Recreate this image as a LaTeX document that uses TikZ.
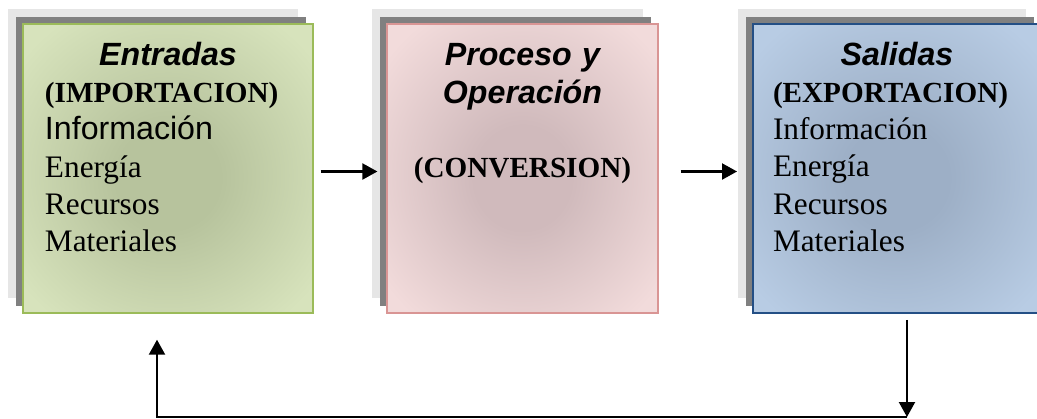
\documentclass[tikz,border=0pt]{standalone}
\usepackage{fontspec}
\setmainfont{Liberation Serif}
\setsansfont{Liberation Sans}
\usetikzlibrary{arrows.meta,positioning,shadows}

\definecolor{greenfill}{HTML}{D7E3BC}
\definecolor{greencore}{HTML}{B7C39D}
\definecolor{greenline}{HTML}{9BBB59}
\definecolor{pinkfill}{HTML}{F2DBDB}
\definecolor{pinkcore}{HTML}{D0BABC}
\definecolor{pinkline}{HTML}{D99594}
\definecolor{bluefill}{HTML}{B8CCE4}
\definecolor{bluecore}{HTML}{9DAFC6}
\definecolor{blueline}{HTML}{244F85}
\definecolor{lightshade}{HTML}{E6E6E6}
\definecolor{darkshade}{HTML}{808080}

\pgfdeclareradialshading{glowgreen}{\pgfpoint{0bp}{-2bp}}{color(0bp)=(greencore); color(9bp)=(greencore); color(32bp)=(greenfill); color(50bp)=(greenfill)}
\pgfdeclareradialshading{glowpink}{\pgfpoint{0bp}{-2bp}}{color(0bp)=(pinkcore); color(9bp)=(pinkcore); color(32bp)=(pinkfill); color(50bp)=(pinkfill)}
\pgfdeclareradialshading{glowblue}{\pgfpoint{0bp}{-2bp}}{color(0bp)=(bluecore); color(9bp)=(bluecore); color(32bp)=(bluefill); color(50bp)=(bluefill)}

\begin{document}
\begin{tikzpicture}[
    sysbox/.style={rectangle, shade, minimum height=5.78cm,
        general shadow={fill=lightshade, shadow xshift=-0.3cm, shadow yshift=0.3cm},
        general shadow={fill=darkshade, shadow xshift=-0.14cm, shadow yshift=0.14cm}},
    boxtext/.style={inner sep=0pt, align=left, font=\fontsize{17.8}{21.2}\selectfont},
    flow/.style={-{Triangle[length=0.3cm,width=0.32cm]}, line width=1.2pt}
]
    \useasboundingbox (0,0) rectangle (20.74,8.36);
    \clip (0,0) rectangle (20.74,8.36);

    % Boxes
    \node[sysbox, minimum width=5.8cm, shading=glowgreen, draw=greenline, line width=0.8pt] (entradas) at (3.36,4.99) {};
    \node[sysbox, minimum width=5.42cm, shading=glowpink, draw=pinkline, line width=0.7pt] (proceso) at (10.45,4.99) {};
    \node[sysbox, minimum width=5.76cm, shading=glowblue, draw=blueline, line width=1.1pt] (salidas) at (17.94,4.99) {};

    % Texts
    \node[boxtext, text width=4.92cm, below=0.84cm of entradas.north, anchor=base] (entradastxt) {%
        {\centering\sffamily\bfseries\itshape\fontsize{18.3}{21.2}\selectfont Entradas\par}
        {\bfseries\fontsize{16.6}{21.2}\selectfont (IMPORTACION)}\\
        {\sffamily\fontsize{18.3}{21.2}\selectfont Información}\\
        Energía\\
        Recursos\\
        Materiales};
    \node[boxtext, align=center, text width=5cm, below=0.85cm of proceso.north, anchor=base] (procesotxt) {%
        \sffamily\bfseries\itshape\fontsize{18.3}{21.2}\selectfont Proceso y\\
        Operación\\[21.2pt]
        \rmfamily\upshape\fontsize{16.6}{21.2}\selectfont (CONVERSION)};
    \node[boxtext, text width=4.96cm, below=0.84cm of salidas.north, anchor=base] (salidastxt) {%
        {\centering\sffamily\bfseries\itshape\fontsize{18.3}{21.2}\selectfont Salidas\par}
        {\bfseries\fontsize{16.6}{21.2}\selectfont (EXPORTACION)}\\
        Información\\
        Energía\\
        Recursos\\
        Materiales};

    % Flow
    \draw[flow, shorten <=0.14cm, shorten >=0.18cm] ([yshift=-0.06cm]entradas.east) -- ([yshift=-0.06cm]proceso.west);
    \draw[flow, shorten <=0.44cm, shorten >=0.3cm] ([yshift=-0.06cm]proceso.east) -- ([yshift=-0.06cm]salidas.west);

    % Feedback
    \coordinate (loopcorner) at (18.14,0.02);
    \draw[flow] ([xshift=0.2cm, yshift=-0.12cm]salidas.south) -- (loopcorner);
    \draw[flow] (loopcorner) -| ([xshift=-0.22cm, yshift=-0.52cm]entradas.south);
\end{tikzpicture}
\end{document}
